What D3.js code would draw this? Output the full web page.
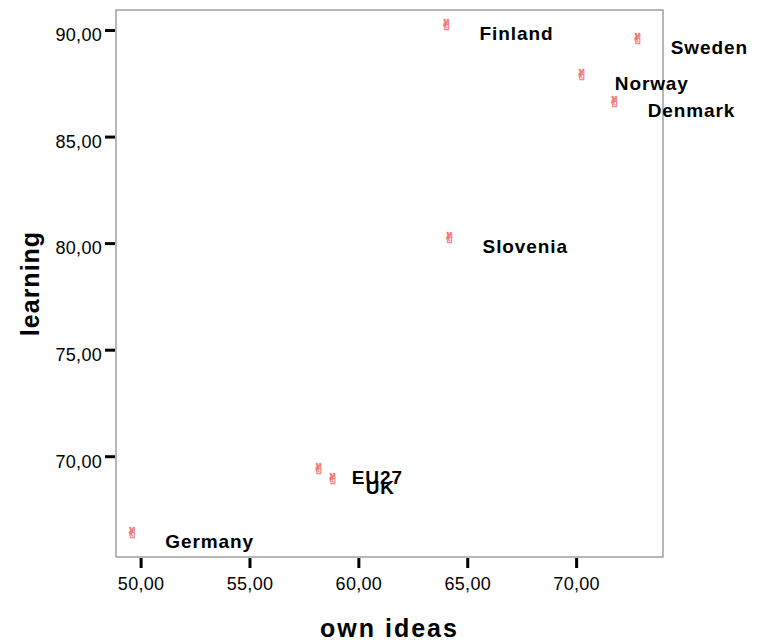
<!DOCTYPE html>
<html>
<head>
<meta charset="utf-8">
<script src="https://cdn.jsdelivr.net/npm/d3@7"></script>
<style>
  body { margin: 0; background: #fff; }
  text { font-family: "Liberation Sans", Arial, sans-serif; }
</style>
</head>
<body>
<div id="chart"></div>
<script>
// chart size, same as the picture
const width = 758;
const height = 643;
const plot = {left: 116, right: 663, top: 10, bottom: 557};

// data
const countries = ["Finland", "Sweden", "Norway", "Denmark", "Slovenia", "EU27", "UK", "Germany"];
const ownIdeas = [64.05, 72.83, 70.26, 71.77, 64.19, 58.18, 58.82, 49.62];
const learning = [90.24, 89.57, 87.89, 86.64, 80.25, 69.42, 68.95, 66.41];

const xTicks = [50, 55, 60, 65, 70];
const yTicks = [70, 75, 80, 85, 90];
const xTitle = "own ideas";
const yTitle = "learning";

// comma as decimal mark, like the original
const locale = d3.formatLocale({decimal: ",", thousands: ".", grouping: [3], currency: ["", ""]});
const fmt = locale.format(".2f");

const svg = d3.select("#chart")
  .append("svg")
  .attr("width", width)
  .attr("height", height);

const xScale = d3.scaleLinear()
  .domain([48.87, 73.99])
  .range([plot.left, plot.right]);

const yScale = d3.scaleLinear()
  .domain([65.27, 90.94])
  .range([plot.bottom, plot.top]);

// frame
svg.append("rect")
  .attr("x", plot.left)
  .attr("y", plot.top)
  .attr("width", plot.right - plot.left)
  .attr("height", plot.bottom - plot.top)
  .attr("fill", "none")
  .attr("stroke", "#888")
  .attr("stroke-width", 1.2);

// y axis
const yAxis = svg.append("g")
  .attr("transform", `translate(${plot.left - 1},0)`)
  .call(d3.axisLeft(yScale).tickValues(yTicks).tickFormat(fmt).tickSize(10).tickPadding(3));
yAxis.select(".domain").remove();
yAxis.selectAll(".tick line").attr("stroke", "#000").attr("stroke-width", 3);
yAxis.selectAll(".tick text")
  .attr("fill", "#000")
  .attr("font-size", "18px")
  .attr("font-family", "Liberation Sans, Arial, sans-serif")
  .attr("letter-spacing", "0.3px")
  .attr("dy", "0.6em");

// x axis
const xAxis = svg.append("g")
  .attr("transform", `translate(0,${plot.bottom + 1})`)
  .call(d3.axisBottom(xScale).tickValues(xTicks).tickFormat(fmt).tickSize(10).tickPadding(9));
xAxis.select(".domain").remove();
xAxis.selectAll(".tick line").attr("stroke", "#000").attr("stroke-width", 3);
xAxis.selectAll(".tick text")
  .attr("fill", "#000")
  .attr("font-size", "18px")
  .attr("font-family", "Liberation Sans, Arial, sans-serif")
  .attr("letter-spacing", "0.3px");

// axis titles
svg.append("text")
  .attr("x", (plot.left + plot.right) / 2)
  .attr("y", 637)
  .attr("text-anchor", "middle")
  .attr("font-size", "25px")
  .attr("font-weight", "bold")
  .attr("letter-spacing", "2px")
  .text(xTitle);

svg.append("text")
  .attr("transform", `translate(39,${(plot.top + plot.bottom) / 2}) rotate(-90)`)
  .attr("text-anchor", "middle")
  .attr("font-size", "25px")
  .attr("font-weight", "bold")
  .attr("letter-spacing", "1px")
  .text(yTitle);

// markers (SPSS style hand symbol), text presentation not emoji
svg.selectAll(".pt")
  .data(countries)
  .enter()
  .append("text")
    .attr("class", "pt")
    .attr("x", (d, i) => xScale(ownIdeas[i]))
    .attr("y", (d, i) => yScale(learning[i]))
    .attr("text-anchor", "middle")
    .attr("dominant-baseline", "central")
    .style("font-family", "'DejaVu Sans'")
    .style("font-variant-emoji", "text")
    .attr("font-size", "15px")
    .attr("fill", "#fff")
    .attr("stroke", "#f07878")
    .attr("stroke-width", 0.6)
    .text("\u270C\uFE0E");

// country labels
svg.selectAll(".lbl")
  .data(countries)
  .enter()
  .append("text")
    .attr("class", "lbl")
    .attr("x", (d, i) => xScale(ownIdeas[i]) + 33)
    .attr("y", (d, i) => yScale(learning[i]) + 15)
    .attr("font-size", "19px")
    .attr("font-weight", "bold")
    .attr("letter-spacing", "0.9px")
    .text(d => d);
</script>
</body>
</html>
